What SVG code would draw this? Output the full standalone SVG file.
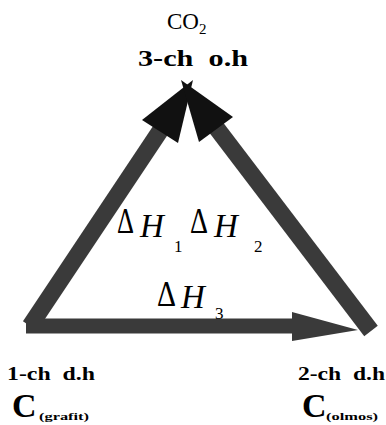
<svg xmlns="http://www.w3.org/2000/svg" width="386" height="425" viewBox="0 0 386 425">
<style>
.shaft{stroke:#3a3a3a;stroke-width:17;fill:none;stroke-linecap:butt}
.bshaft{stroke:#3a3a3a;stroke-width:15;fill:none;stroke-linecap:butt}
.head{fill:#111}
.hd{fill:#3a3a3a}
.t{font-family:"Liberation Serif",serif;fill:#000}
.b{font-weight:bold;white-space:pre}
.d{font-family:"Liberation Serif",serif;font-size:35px}
.h{font-family:"Liberation Serif",serif;font-size:33px;font-style:italic}
.s{font-family:"Liberation Serif",serif;font-size:17px}
</style>
<rect width="386" height="425" fill="#fff"/>
<g id="connectors">
  <line class="shaft" x1="30" y1="326" x2="162" y2="128"/>
  <polygon class="head" points="193,80 178,143 142,120"/>
  <line class="shaft" x1="371" y1="331" x2="215" y2="126"/>
  <polygon class="head" points="181,80 233,117 199,142"/>
  <line class="bshaft" x1="26" y1="326" x2="296" y2="326"/>
  <polygon class="hd" points="292,312 358,330 292,341"/>
</g>
<g id="co2">
  <text class="t" x="167" y="29" font-size="23">CO<tspan font-size="15" dy="5">2</tspan></text>
  <text class="t b" x="138" y="66" font-size="23" textLength="110" lengthAdjust="spacingAndGlyphs">3-ch  o.h</text>
</g>
<g id="grafit">
  <text class="t b" x="7" y="380" font-size="18" textLength="88" lengthAdjust="spacingAndGlyphs">1-ch  d.h</text>
  <text class="t b" x="12" y="417" font-size="34">C</text>
  <text class="t b" x="39" y="420" font-size="11" textLength="50" lengthAdjust="spacingAndGlyphs">(grafit)</text>
</g>
<g id="olmos">
  <text class="t b" x="302" y="417" font-size="34">C</text>
  <text class="t b" x="298" y="380" font-size="18" textLength="87" lengthAdjust="spacingAndGlyphs">2-ch  d.h</text>
  <text class="t b" x="326" y="420" font-size="11" textLength="52" lengthAdjust="spacingAndGlyphs">(olmos)</text>
</g>
<g id="dh1">
  <text class="d" x="117" y="233" textLength="17" lengthAdjust="spacingAndGlyphs">Δ</text>
  <text class="h" x="140" y="237">H</text>
  <text class="s" x="174" y="252">1</text>
</g>
<g id="dh2">
  <text class="d" x="190" y="233" textLength="18" lengthAdjust="spacingAndGlyphs">Δ</text>
  <text class="h" x="214" y="237">H</text>
  <text class="s" x="254" y="252">2</text>
</g>
<g id="dh3">
  <text class="d" x="157" y="306" textLength="19" lengthAdjust="spacingAndGlyphs">Δ</text>
  <text class="h" x="181" y="308">H</text>
  <text class="s" x="215" y="319">3</text>
</g>
</svg>
